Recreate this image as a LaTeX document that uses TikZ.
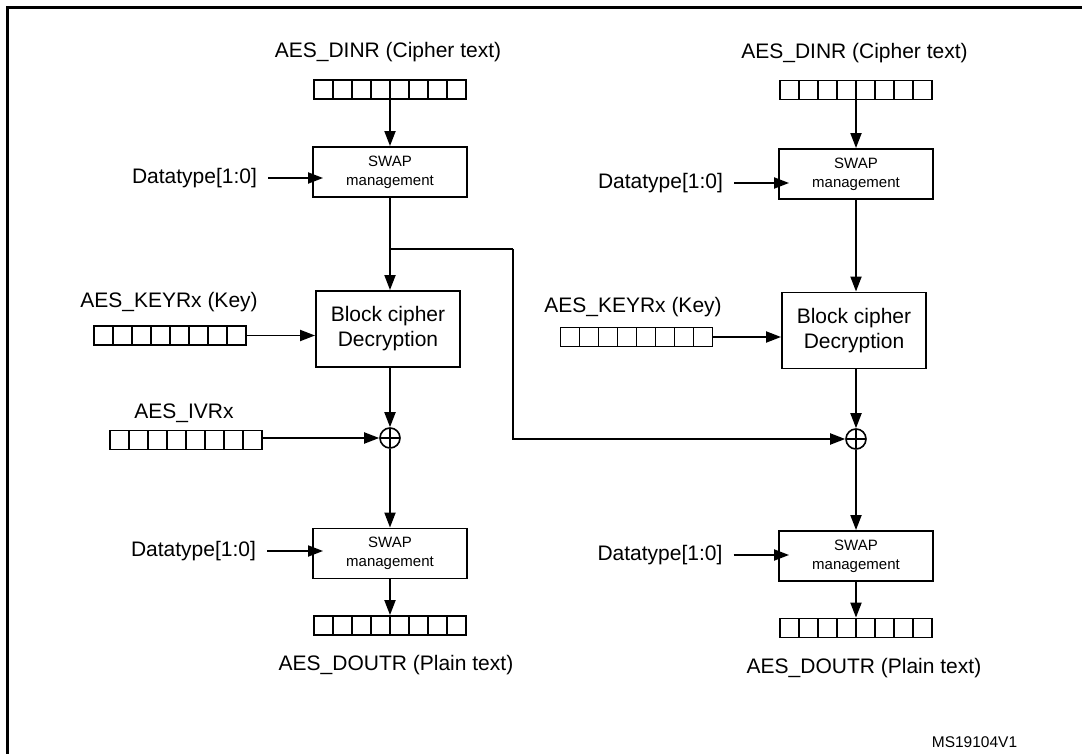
\documentclass[tikz,border=0pt]{standalone}
\usepackage{fontspec}
\setmainfont{Liberation Sans}
\usetikzlibrary{arrows.meta,calc}
\tikzset{
 arr/.style={line width=1.9pt, -{Triangle[length=15pt,width=11pt]}},
 plain/.style={line width=1.9pt},
 reg/.style={draw, line width=1.8pt, minimum width=152pt, minimum height=19pt, inner sep=0pt,
   path picture={\foreach \i in {1,...,7}{\draw[line width=1.8pt] ($(path picture bounding box.south west)!\i/8!(path picture bounding box.south east)$) -- ($(path picture bounding box.north west)!\i/8!(path picture bounding box.north east)$);}}},
 swapbox/.style={draw, line width=1.9pt, minimum width=154pt, minimum height=50pt, align=center, font=\fontsize{15}{19}\selectfont, inner sep=0pt},
 blockbox/.style={draw, line width=1.9pt, minimum width=144pt, minimum height=76pt, align=center, font=\fontsize{21}{25}\selectfont, inner sep=0pt},
 lbl/.style={font=\fontsize{21}{25}\selectfont, inner sep=0pt},
 xorn/.style={draw, circle, line width=1.6pt, minimum size=20pt, inner sep=0pt,
   path picture={\draw[line width=1.6pt] (path picture bounding box.north) -- (path picture bounding box.south) (path picture bounding box.west) -- (path picture bounding box.east);}},
}
\begin{document}
\begin{tikzpicture}[x=1pt,y=-1pt]
\useasboundingbox (0,0) rectangle (1082,754);
\draw[line width=3pt] (7.5,760) -- (7.5,7.5) -- (1090,7.5);

% left column
\node[lbl] (t1) at (388,52) {AES\_DINR (Cipher text)};
\node[reg] (r1) at (390,89.5) {};
\node[swapbox] (s1) at (390,172) {SWAP\\management};
\node[lbl] (d1) at (194.5,178) {Datatype[1:0]};
\node[lbl] (k1) at (169,302) {AES\_KEYRx (Key)};
\node[reg] (kr1) at (170,335.5) {};
\node[blockbox] (b1) at (388,329) {Block cipher\\Decryption};
\node[lbl] (i1) at (184,413) {AES\_IVRx};
\node[reg] (ir1) at (186,440) {};
\node[xorn] (x1) at (390,438) {};
\node[swapbox] (s2) at (390,553.5) {SWAP\\management};
\node[lbl] (d2) at (193.5,551) {Datatype[1:0]};
\node[reg] (r2) at (390,625.5) {};
\node[lbl] (o1) at (396,665) {AES\_DOUTR (Plain text)};

% right column
\node[lbl] (t2) at (854.5,53) {AES\_DINR (Cipher text)};
\node[reg] (r3) at (856,90) {};
\node[swapbox] (s3) at (856,174) {SWAP\\management};
\node[lbl] (d3) at (660.5,183) {Datatype[1:0]};
\node[lbl] (k2) at (633,307) {AES\_KEYRx (Key)};
\node[reg] (kr2) at (636.5,337) {};
\node[blockbox] (b2) at (854,330.5) {Block cipher\\Decryption};
\node[xorn] (x2) at (856,439) {};
\node[swapbox] (s4) at (856,556) {SWAP\\management};
\node[lbl] (d4) at (660,555) {Datatype[1:0]};
\node[reg] (r4) at (856,628) {};
\node[lbl] (o2) at (864,668) {AES\_DOUTR (Plain text)};

\node[font=\fontsize{15.5}{18}\selectfont, inner sep=0pt] (ms) at (974.5,742) {MS19104V1};

% left connectors
\draw[arr] (r1.center) -- (s1.north);
\draw[arr] ([xshift=11pt]d1.east) -- ([xshift=11pt]d1.east -| s1.west);
\draw[arr] (s1.south) -- (s1.south |- b1.north);
\draw[arr] (kr1.east) -- (kr1.east -| b1.west);
\draw[arr] (b1.south -| x1.north) -- (x1.north);
\draw[arr] (ir1.east |- x1.west) -- (x1.west);
\draw[arr] (x1.south) -- (s2.north);
\draw[arr] ([xshift=11pt]d2.east) -- ([xshift=11pt]d2.east -| s2.west);
\draw[arr] (s2.south) -- (r2.north);

% cross connection
\coordinate (br) at (390,249);
\coordinate (bend) at (513,249);
\draw[plain] (br) -- (bend);
\draw[arr] (bend) |- (x2.west);

% right connectors
\draw[arr] (r3.center) -- (s3.north);
\draw[arr] ([xshift=11pt]d3.east) -- ([xshift=11pt]d3.east -| s3.west);
\draw[arr] (s3.south) -- (s3.south |- b2.north);
\draw[arr] (kr2.east) -- (kr2.east -| b2.west);
\draw[arr] (b2.south -| x2.north) -- (x2.north);
\draw[arr] (x2.south) -- (x2.south |- s4.north);
\draw[arr] ([xshift=11pt]d4.east) -- ([xshift=11pt]d4.east -| s4.west);
\draw[arr] (s4.south) -- (s4.south |- r4.north);
\end{tikzpicture}
\end{document}
